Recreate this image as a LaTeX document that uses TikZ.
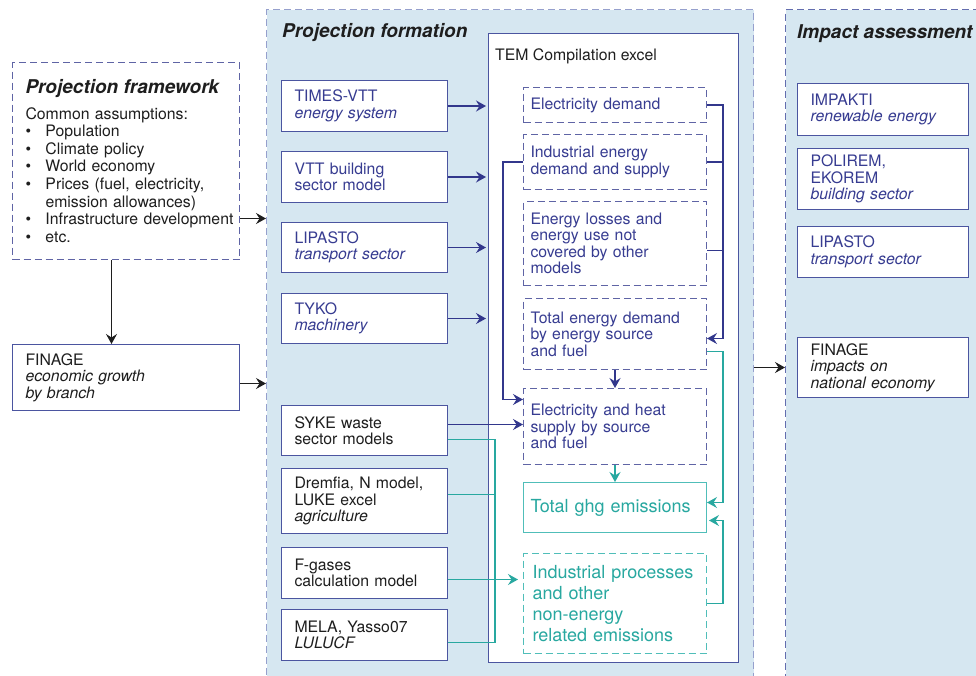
\documentclass[tikz,border=0pt]{standalone}
\usepackage{fontspec}
\setmainfont{TeX Gyre Heros}
\usetikzlibrary{arrows.meta}

\definecolor{panelfill}{RGB}{214,231,241}
\definecolor{projdash}{RGB}{150,160,205}
\definecolor{impdash}{RGB}{100,110,175}
\definecolor{boxblue}{RGB}{75,85,160}
\definecolor{dashblue}{RGB}{95,100,165}
\definecolor{txtblue}{RGB}{55,60,145}
\definecolor{arrblue}{RGB}{50,55,140}
\definecolor{tealline}{RGB}{40,168,160}
\definecolor{tealbox}{RGB}{80,190,185}
\definecolor{darktext}{RGB}{30,30,30}

\newcommand\boxfont{\fontsize{15.8}{16.5}\selectfont}
\newcommand\fwfont{\fontsize{15.8}{17.6}\selectfont}
\newcommand\titlefont{\fontsize{19}{22}\selectfont\bfseries\itshape}
\newcommand\bigfont{\fontsize{18}{21}\selectfont}
\newcommand\bitem{\makebox[20pt][l]{\textbullet}}

\tikzset{
  panel/.style={draw=projdash, dash pattern=on 7pt off 4pt, line width=1pt, fill=panelfill, anchor=north west, inner sep=0pt},
  heading/.style={anchor=base west, inner sep=0pt, font=\titlefont, text=darktext},
  modelbox/.style={draw=boxblue, line width=1pt, fill=white, anchor=north west, align=left, inner xsep=13pt, inner ysep=0pt, text width=140pt, font=\boxfont, text=darktext},
  impactbox/.style={modelbox, text width=145pt},
  partbox/.style={modelbox, draw=dashblue, dash pattern=on 7pt off 4pt, inner xsep=7pt, text width=169pt, text=txtblue},
  tip/.style={-{Stealth[length=10pt,width=11pt,inset=3.5pt]}},
  bline/.style={draw=arrblue, line width=1.5pt},
  barrow/.style={bline, tip},
  tline/.style={draw=tealline, line width=1.5pt},
  tarrow/.style={tline, tip},
  karrow/.style={draw=darktext, line width=1.3pt, tip}
}

\begin{document}
\begin{tikzpicture}[x=1pt, y=-1pt]
  \useasboundingbox (0,0) rectangle (976,675);
  \clip (0,0) rectangle (976,675);

  % panels
  \node[panel, minimum width=487pt, minimum height=700pt] (proj) at (266,9) {};
  \node[panel, draw=impdash, minimum width=220pt, minimum height=700pt] (imp) at (785,9) {};
  \node[heading] (projTitle) at (282,37) {Projection formation};
  \node[heading] (impTitle) at (797,38) {Impact assessment};

  % left column
  \node[modelbox, draw=dashblue, dash pattern=on 7pt off 4pt, font=\fwfont, text width=201pt, minimum height=197pt] (frame) at (12,62) {%
    {\titlefont Projection framework}\\[8pt]
    Common assumptions:\\
    \bitem Population\\
    \bitem Climate policy\\
    \bitem World economy\\
    \bitem Prices (fuel, electricity,\\
    \hspace*{20pt}emission allowances)\\
    \bitem\mbox{Infrastructure development}\\
    \bitem etc.};
  \node[modelbox, text width=201pt, minimum height=66pt] (finL) at (12,344) {FINAGE\\\textit{economic growth}\\\textit{by branch}};

  % models
  \foreach \n/\y/\h/\c/\t in {
    times/80/51pt/txtblue/{TIMES-VTT\\\textit{energy system}},
    vtt/151/51pt/txtblue/{VTT building\\sector model},
    lipL/222/50pt/txtblue/{LIPASTO\\\textit{transport sector}},
    tyko/293/50pt/txtblue/{TYKO\\\textit{machinery}},
    syke/405/50pt/darktext/{SYKE waste\\sector models},
    drem/468/65pt/darktext/{Dremfia, N model,\\LUKE excel\\\textit{agriculture}},
    fgas/547/51pt/darktext/{F-gases\\calculation model},
    mela/609/51pt/darktext/{MELA, Yasso07\\\textit{LULUCF}}} {
    \node[modelbox, text=\c, minimum height=\h] (\n) at (281,\y) {\t};
  }

  % compilation
  \node[draw=boxblue, line width=1pt, fill=white, anchor=north west, inner sep=0pt, minimum width=250pt, minimum height=629pt] (tem) at (488,33) {};
  \node[anchor=base west, inner sep=0pt, font=\boxfont, text=darktext] (temTitle) at (495,60) {TEM Compilation excel};
  \foreach \n/\y/\h/\t in {
    ed/87/35pt/{Electricity demand},
    ie/134/55pt/{Industrial energy\\demand and supply},
    el/201/84pt/{Energy losses and\\energy use not\\covered by other\\models},
    ted/298/71pt/{Total energy demand\\by energy source\\and fuel},
    eh/388/76pt/{Electricity and heat\\supply by source\\and fuel}} {
    \node[partbox, minimum height=\h] (\n) at (523,\y) {\t};
  }
  \node[partbox, solid, draw=tealbox, text=tealline, font=\bigfont, minimum height=50pt] (ghg) at (523,482) {Total ghg emissions};
  \node[partbox, draw=tealbox, text=tealline, font=\bigfont, inner xsep=9pt, text width=165pt, minimum height=100pt] (ip) at (523,553) {Industrial processes\\and other\\non-energy\\related emissions};

  % impact models
  \foreach \n/\y/\h/\c/\t in {
    impk/83/52pt/txtblue/{IMPAKTI\\\textit{renewable energy}},
    pol/148/61pt/txtblue/{POLIREM,\\EKOREM\\\textit{building sector}},
    lipR/226/51pt/txtblue/{LIPASTO\\\textit{transport sector}},
    finR/337/60pt/darktext/{FINAGE\\\textit{impacts on}\\\textit{national economy}}} {
    \node[impactbox, text=\c, minimum height=\h] (\n) at (797,\y) {\t};
  }

  % black arrows
  \coordinate (frameOut) at ([yshift=-57.5pt]frame.east);
  \draw[karrow] (frameOut) -- (frameOut -| proj.west);
  \coordinate (frameDown) at ([xshift=-14.5pt]frame.south);
  \draw[karrow] (frameDown) -- (frameDown |- finL.north);
  \coordinate (finOut) at ([yshift=-6pt]finL.east);
  \draw[karrow] (finOut) -- (finOut -| proj.west);
  \draw[karrow] (proj.east |- finR.west) -- (imp.west |- finR.west);

  % blue arrows
  \foreach \n in {times,vtt,lipL,tyko}
    \draw[barrow, shorten >=2pt] (\n.east) -- (\n.east -| tem.west);
  \coordinate (rbus) at (723,0);
  \coordinate (elR) at ([yshift=-7pt]el.east);
  \coordinate (tedIn) at ([yshift=-4.5pt]ted.east);
  \draw[barrow] (ed.east) -| (rbus |- tedIn) -- (tedIn);
  \draw[bline] (ie.east) -- (ie.east -| rbus);
  \draw[bline] (elR) -- (elR -| rbus);
  \coordinate (ehIn) at ([yshift=27pt]eh.west);
  \draw[barrow] (ie.west) -- ++(-20,0) |- (ehIn);
  \draw[barrow] (ted.south) -- (eh.north);
  \coordinate (sykeB) at ([yshift=6pt]syke.east);
  \draw[barrow] (sykeB) -- (sykeB -| eh.west);

  % teal arrows
  \coordinate (tbus) at (495,0);
  \coordinate (sykeT) at ([yshift=-9pt]syke.east);
  \coordinate (dremT) at ([yshift=6.5pt]drem.east);
  \coordinate (melaT) at ([yshift=-7.5pt]mela.east);
  \draw[tline] (sykeT) -| (tbus |- melaT) -- (melaT);
  \draw[tline] (dremT) -- (dremT -| tbus);
  \coordinate (fgasT) at ([yshift=-6.5pt]fgas.east);
  \draw[tarrow, shorten >=5pt] (fgasT) -- (fgasT -| ip.west);
  \draw[tarrow] (eh.south) -- (ghg.north);
  \coordinate (tedT) at ([yshift=-17.5pt]ted.east);
  \coordinate (ghgA) at ([yshift=5pt]ghg.east);
  \coordinate (ghgB) at ([yshift=-13pt]ghg.east);
  \draw[tarrow] (tedT) -| (rbus |- ghgA) -- (ghgA);
  \draw[tarrow, shorten >=2pt] (ip.east) -| (rbus |- ghgB) -- (ghgB);
\end{tikzpicture}
\end{document}
